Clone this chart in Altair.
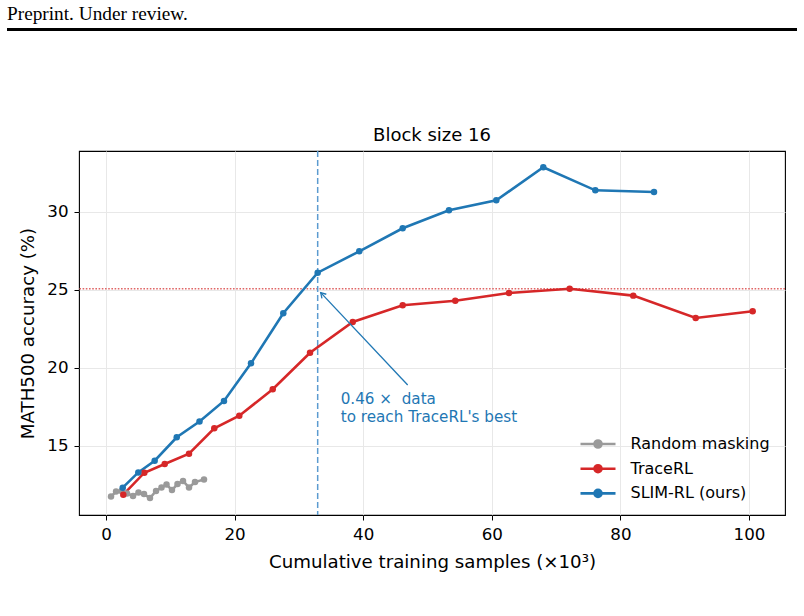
import altair as alt
import pandas as pd

# ---------------- data ----------------
series_names = ["Random masking", "TraceRL", "SLIM-RL (ours)"]
series_colors = ["#9a9a9a", "#d62728", "#1f77b4"]

random_x = [0.78, 1.56, 2.41, 3.27, 4.20, 5.05, 5.91, 6.84, 7.78, 8.63, 9.41, 10.26, 11.12, 11.98, 12.91, 13.84, 15.24]
random_y = [11.74, 12.06, 12.10, 11.94, 11.78, 12.00, 11.90, 11.65, 12.10, 12.32, 12.51, 12.16, 12.54, 12.74, 12.32, 12.67, 12.83]

tracerl_x = [2.69, 5.96, 9.13, 12.91, 16.84, 20.73, 25.93, 31.73, 38.37, 46.14, 54.32, 62.67, 72.11, 82.00, 91.71, 100.57]
tracerl_y = [11.86, 13.27, 13.83, 14.49, 16.12, 16.92, 18.62, 20.96, 22.93, 24.00, 24.29, 24.79, 25.06, 24.62, 23.19, 23.62]

slim_x = [2.60, 5.02, 7.57, 11.00, 14.54, 18.35, 22.55, 27.57, 32.92, 39.39, 46.14, 53.34, 60.70, 68.01, 76.10, 85.23]
slim_y = [12.31, 13.29, 14.04, 15.54, 16.55, 17.87, 20.28, 23.49, 26.09, 27.46, 28.94, 30.09, 30.73, 32.85, 31.37, 31.26]

x_ticks = [0, 20, 40, 60, 80, 100]
y_ticks = [15, 20, 25, 30]
x_domain = [-4.2, 105.6]
y_domain = [10.56, 33.89]

annot_text = ["0.46 ×\u00a0 data\nto reach TraceRL's best"]
annot_pos = [36.5, 17.67]          # text anchor (data units)
arrow_tail = [46.92, 18.89]
arrow_tip = [33.39, 24.81]

title_text = ["Block size 16"]
header_text = ["Preprint. Under review."]

# ---------------- tables ----------------
rows = []
for name, xs, ys in zip(series_names, [random_x, tracerl_x, slim_x], [random_y, tracerl_y, slim_y]):
    for i, (a, b) in enumerate(zip(xs, ys)):
        rows.append({"series": name, "x": a, "y": b, "i": i})
df = pd.DataFrame(rows)

tracerl_best = max(tracerl_y)
match_x = next(a for a, b in zip(slim_x, slim_y) if b >= tracerl_best)

FONT = "DejaVu Sans"
W, H = 706, 364

x_enc = alt.X("x:Q", scale=alt.Scale(domain=x_domain, nice=False, zero=False),
              axis=alt.Axis(values=x_ticks, title="Cumulative training samples (×10³)",
                            titlePadding=11, labelPadding=6))
y_enc = alt.Y("y:Q", scale=alt.Scale(domain=y_domain, nice=False, zero=False),
              axis=alt.Axis(values=y_ticks, title="MATH500 accuracy (%)",
                            titlePadding=9, labelPadding=6))

legend_path = "M-1.75,0L1.75,0M-0.35,0A0.35,0.35 0 1,0 0.35,0A0.35,0.35 0 1,0 -0.35,0Z"

color_enc = alt.Color(
    "series:N",
    scale=alt.Scale(domain=series_names, range=series_colors),
    legend=alt.Legend(
        title=None, orient="none", legendX=507.5, legendY=281.5,
        symbolType=legend_path, symbolSize=400, symbolStrokeWidth=2.6,
        labelFont=FONT, labelFontSize=16, labelColor="black",
        labelOffset=21, rowPadding=3.7, padding=0, symbolOffset=0,
    ),
)

base = alt.Chart(df)

lines = base.mark_line(strokeWidth=2.6).encode(
    x=x_enc, y=y_enc, color=color_enc, order=alt.Order("i:Q"))

points = base.mark_point(filled=True, size=42, opacity=1).encode(
    x="x:Q", y="y:Q",
    color=alt.Color("series:N", scale=alt.Scale(domain=series_names, range=series_colors), legend=None))

hline = alt.Chart(pd.DataFrame({"y": [tracerl_best]})).mark_rule(
    color="#e06666", strokeWidth=1.3, strokeDash=[1.6, 1.6]).encode(y="y:Q")

vline = alt.Chart(pd.DataFrame({"x": [match_x]})).mark_rule(
    color="#5b9bd0", strokeWidth=1.5, strokeDash=[6, 3]).encode(x="x:Q")

arrow_df = pd.DataFrame({"x": [arrow_tail[0]], "y": [arrow_tail[1]],
                         "x2": [arrow_tip[0]], "y2": [arrow_tip[1]]})
arrow_line = alt.Chart(arrow_df).mark_rule(color="#1f77b4", strokeWidth=1.3).encode(
    x="x:Q", y="y:Q", x2="x2:Q", y2="y2:Q")
arrow_head = alt.Chart(arrow_df).mark_point(
    shape="M-0.6,1L0,0L0.6,1", size=100, filled=False, color="#1f77b4",
    strokeWidth=1.3, angle=316.7, opacity=1).encode(x="x2:Q", y="y2:Q")

annot = alt.Chart(pd.DataFrame({"x": [annot_pos[0]], "y": [annot_pos[1]], "label": annot_text})).mark_text(
    align="left", baseline="alphabetic", lineBreak="\n", lineHeight=17.7,
    font=FONT, fontSize=15.2, color="#1f77b4").encode(x="x:Q", y="y:Q", text="label:N")

title_df = pd.DataFrame({"label": title_text})
title = alt.Chart(title_df).mark_text(
    align="center", baseline="alphabetic", font=FONT, fontSize=18, color="black"
).encode(x=alt.value(W / 2), y=alt.value(-10), text="label:N")

header_df = pd.DataFrame({"label": header_text})
header = alt.Chart(header_df).mark_text(
    align="left", baseline="alphabetic", font="Liberation Serif", fontSize=19.3, color="black"
).encode(x=alt.value(-72), y=alt.value(-131), text="label:N")
header_rule = alt.Chart(header_df).mark_rule(color="black", strokeWidth=3).encode(
    x=alt.value(-72), x2=alt.value(718), y=alt.value(-121.5))

chart = alt.layer(
    hline, vline, lines, points, arrow_line, arrow_head, annot, title, header, header_rule
).properties(
    width=W, height=H,
    autosize=alt.AutoSizeParams(type="none"),
    padding={"left": 79, "top": 151, "right": 19, "bottom": 101},
    background="white",
).configure_view(
    stroke="black", strokeWidth=1.1
).configure_axis(
    labelFont=FONT, labelFontSize=16.7, labelColor="black",
    titleFont=FONT, titleFontSize=18.2, titleFontWeight="normal", titleColor="black",
    tickColor="black", tickSize=5, tickWidth=1, domain=False,
    gridColor="#e8e8e8", gridWidth=1,
)

chart.save("out.html", embed_options={"renderer": "svg", "actions": False})
